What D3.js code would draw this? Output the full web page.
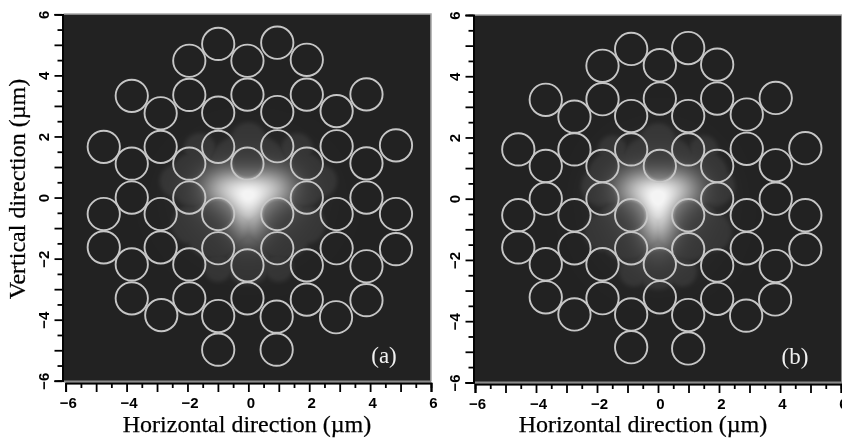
<!DOCTYPE html>
<html><head><meta charset="utf-8">
<style>html,body{margin:0;padding:0;background:#fff;overflow:hidden}
#wrap{position:relative;width:842px;height:439px}
canvas,svg{position:absolute;left:0;top:0}</style>
<script src="https://cdn.jsdelivr.net/npm/d3@7/dist/d3.min.js"></script>
</head><body><div id="wrap"></div>
<script>
const majorTicks=[-6,-4,-2,0,2,4,6];
const unitTicks=[-5,-3,-1,1,3,5];
const halfTicks=[-5.5,-4.5,-3.5,-2.5,-1.5,-0.5,0.5,1.5,2.5,3.5,4.5,5.5];
const xTitle="Horizontal direction (µm)";
const yTitle="Vertical direction (µm)";
const holeRadius=0.53;

const holesAx=[-0.99,0.95,-1.94,-0.03,1.92,-3.83,-1.94,-0.03,1.92,3.88,-2.88,-0.99,0.95,2.90,
 -4.75,-2.88,-0.99,0.95,2.90,4.85,-3.83,-1.94,-0.03,1.92,3.88,-3.83,-1.94,1.92,3.88,
 -4.75,-2.88,-0.99,0.95,2.90,4.85,-4.75,-2.88,-0.99,0.95,2.90,4.85,
 -3.83,-1.94,-0.03,1.92,3.88,-3.83,-1.94,-0.03,1.92,3.88,-2.86,-0.99,0.93,2.88,-0.99,0.93];
const holesAy=[5.03,5.07,4.48,4.48,4.51,3.33,3.36,3.37,3.37,3.38,2.76,2.78,2.80,2.83,
 1.66,1.66,1.66,1.68,1.68,1.71,1.11,1.11,1.11,1.11,1.12,0,0,0,0,
 -0.54,-0.54,-0.54,-0.54,-0.54,-0.54,-1.63,-1.63,-1.66,-1.66,-1.66,-1.69,
 -2.19,-2.19,-2.22,-2.22,-2.25,-3.30,-3.30,-3.30,-3.34,-3.36,-3.85,-3.88,-3.90,-3.92,-4.98,-4.98];
const holesBx=[-0.88,0.99,-1.82,0.06,1.94,-3.68,-1.82,0.06,1.94,3.86,-2.74,-0.88,0.99,2.91,
 -4.58,-2.74,-0.88,0.99,2.91,4.83,-3.68,-1.82,0.06,1.94,3.86,-3.68,-1.82,1.94,3.86,
 -4.58,-2.74,-0.88,0.99,2.91,4.83,-4.58,-2.74,-0.88,0.99,2.91,4.83,
 -3.68,-1.82,0.06,1.94,3.86,-3.68,-1.82,0.06,1.94,3.84,-2.74,-0.88,0.99,2.89,-0.88,0.99];
const holesBy=[4.89,4.92,4.34,4.36,4.38,3.23,3.25,3.27,3.27,3.29,2.68,2.70,2.70,2.75,
 1.61,1.61,1.61,1.61,1.63,1.65,1.07,1.07,1.07,1.07,1.09,0,0,0,0,
 -0.54,-0.54,-0.54,-0.54,-0.54,-0.54,-1.59,-1.62,-1.62,-1.65,-1.62,-1.65,
 -2.14,-2.14,-2.14,-2.18,-2.20,-3.22,-3.25,-3.22,-3.27,-3.29,-3.78,-3.78,-3.80,-3.82,-4.85,-4.89];

// mode field: [x, y, sigmaX, sigmaY, amplitude]
const glowA=[[0,-0.05,0.5,0.55,0.42],[-0.85,0.3,0.55,0.5,0.36],[0.85,0.3,0.55,0.5,0.36],[0,-0.8,0.45,0.55,0.3],[0,0.35,0.9,0.4,0.2],[0,-0.1,1.25,1.1,0.12]];
const glowB=[[0,-0.3,0.45,0.6,0.42],[-0.7,0.3,0.55,0.5,0.36],[0.7,0.3,0.55,0.5,0.36],[0,-1,0.45,0.65,0.3],[0,0.35,0.85,0.4,0.2],[0,-0.2,1.15,1.25,0.12]];
// faint outer petals: [x, y, radius]
const petalsA=[[0,1.9,0.55],[-1.6,1.6,0.5],[1.6,1.6,0.5],[-2.4,0.55,0.5],[2.4,0.55,0.5],[-1.7,0.6,0.9],[1.7,0.6,0.9],[-1.9,-0.9,0.6],[1.9,-0.9,0.6],[-1,-2.3,0.45],[1,-2.3,0.45],[0,-2.1,0.75],[-1.1,-1,1],[1.1,-1,1],[0,0.7,1.4]];
const petalsB=[[0,1.9,0.55],[-1.5,1.6,0.45],[1.5,1.6,0.45],[-1.9,0.4,0.6],[1.9,0.4,0.6],[-1.4,0.7,0.9],[1.4,0.7,0.9],[-1.8,-1.1,0.6],[1.8,-1.1,0.6],[-0.8,-2.4,0.45],[0.8,-2.4,0.45],[0,-2.2,0.75],[-1,-1,1],[1,-1,1],[0,0.7,1.4]];

const panels=[
 {left:63.5,right:431,x0:65.7,x1:431,y0:380.8,y1:14.3,top:14,bottom:381.5,hx:holesAx,hy:holesAy,glow:glowA,petals:petalsA,tag:"(a)",tagX:384,tagY:363,titleX:247},
 {left:474.5,right:842,x0:475,x1:841,y0:382.4,y1:15,top:15,bottom:382.5,hx:holesBx,hy:holesBy,glow:glowB,petals:petalsB,tag:"(b)",tagX:795,tagY:364,titleX:643}
];

const wrap=d3.select("#wrap");
const canvas=wrap.append("canvas").attr("width",842).attr("height",439);
const ctx=canvas.node().getContext("2d");
const svg=wrap.append("svg").attr("width",842).attr("height",439);
const defs=svg.append("defs");
defs.append("filter").attr("id","soft").append("feGaussianBlur").attr("stdDeviation",0.5);

const gray=d3.scaleLinear().domain([0,0.05,1]).range(["#222222","#333333","#f4f4f4"]).clamp(true);
const smooth=(e0,e1,v)=>{const t=Math.min(1,Math.max(0,(v-e0)/(e1-e0)));return t*t*(3-2*t);};

panels.forEach(p=>{
 const xs=d3.scaleLinear().domain([-6,6]).range([p.x0,p.x1]);
 const ys=d3.scaleLinear().domain([-6,6]).range([p.y0,p.y1]);
 const L=Math.round(p.left),R=Math.round(p.right),T=Math.round(p.top),B=Math.round(p.bottom);
 const img=ctx.createImageData(R-L,B-T);
 const holes=p.hx.map((x,i)=>[x,p.hy[i]]);
 for(let j=T;j<B;j++)for(let i=L;i<R;i++){
  const ux=xs.invert(i+.5),uy=ys.invert(j+.5);
  let g=0;p.glow.forEach(([a,b,sx,sy,m])=>{g+=m*Math.exp(-((ux-a)**2/(2*sx*sx)+(uy-b)**2/(2*sy*sy)));});
  let pet=0;p.petals.forEach(([a,b,r])=>{pet=Math.max(pet,1-smooth(r-0.15,r+0.15,Math.hypot(ux-a,uy-b)));});
  let atten=1;
  for(const [a,b] of holes){const d=Math.hypot(ux-a,uy-b);if(d<holeRadius+0.1){atten=Math.min(atten,0.62+0.38*smooth(holeRadius-0.15,holeRadius+0.05,d));}}
  const v=(g*atten)+pet*0.05;
  const c=d3.rgb(gray(v));
  const k=4*((j-T)*(R-L)+(i-L));
  img.data[k]=c.r;img.data[k+1]=c.g;img.data[k+2]=c.b;img.data[k+3]=255;
 }
 ctx.putImageData(img,L,T);

 // border of the plot
 svg.append("path").attr("d",`M${p.left},${p.top}H${p.right}V${p.bottom}`).attr("fill","none").attr("stroke","#a8a8a8").attr("stroke-width",1.6);
 svg.append("line").attr("x1",p.left).attr("x2",p.right).attr("y1",p.bottom).attr("y2",p.bottom).attr("stroke","#8c8c8c").attr("stroke-width",2);

 // holes
 svg.append("g").attr("filter","url(#soft)").selectAll("circle").data(holes).join("circle")
  .attr("cx",d=>xs(d[0])).attr("cy",d=>ys(d[1])).attr("r",xs(holeRadius)-xs(0))
  .attr("fill","none").attr("stroke","#c6c6c6").attr("stroke-width",1.9);

 // axes
 const ax=(sel,gen,vals,size,labels)=>{
  const g=sel.call(gen.tickValues(vals).tickSize(size).tickPadding(labels?5:0).tickFormat(labels?d3.format("d"):""));
  g.selectAll("path.domain").attr("stroke","#000").attr("stroke-width",1.6);
  g.selectAll(".tick line").attr("stroke","#000").attr("stroke-width",1.8);
  return g;
 };
 const ya=p.left-1, xa=p.bottom+1.5;
 ax(svg.append("g").attr("transform",`translate(0,${xa})`),d3.axisBottom(xs),halfTicks,5,false);
 ax(svg.append("g").attr("transform",`translate(0,${xa})`),d3.axisBottom(xs),unitTicks,9,false);
 const gx=ax(svg.append("g").attr("transform",`translate(0,${xa})`),d3.axisBottom(xs),majorTicks,9,true);
 gx.selectAll("text").attr("font-family","Liberation Sans").attr("font-weight","bold").attr("font-size",15).attr("fill","#000").attr("dx",2);
 ax(svg.append("g").attr("transform",`translate(${ya},0)`),d3.axisLeft(ys),halfTicks,5,false);
 ax(svg.append("g").attr("transform",`translate(${ya},0)`),d3.axisLeft(ys),unitTicks,8,false);
 const gy=ax(svg.append("g").attr("transform",`translate(${ya},0)`),d3.axisLeft(ys),majorTicks,8,true);
 gy.selectAll("text").attr("font-family","Liberation Sans").attr("font-weight","bold").attr("font-size",15).attr("fill","#000")
   .attr("text-anchor","middle").attr("dy",0)
   .attr("transform",`translate(-4,0) rotate(-90)`).attr("x",0).attr("y",-10);

 svg.append("text").attr("x",p.tagX).attr("y",p.tagY).attr("text-anchor","middle").attr("fill","#f0f0f0")
  .attr("font-family","Liberation Serif").attr("font-size",23).text(p.tag);
 svg.append("text").attr("x",p.titleX).attr("y",432).attr("text-anchor","middle").attr("fill","#000")
  .attr("font-family","Liberation Serif").attr("font-size",24).attr("stroke","#000").attr("stroke-width",0.25).text(xTitle);
});
svg.append("text").attr("transform","translate(25,189) rotate(-90)").attr("text-anchor","middle").attr("fill","#000")
 .attr("font-family","Liberation Serif").attr("font-size",24).attr("stroke","#000").attr("stroke-width",0.25).text(yTitle);
</script></body></html>
